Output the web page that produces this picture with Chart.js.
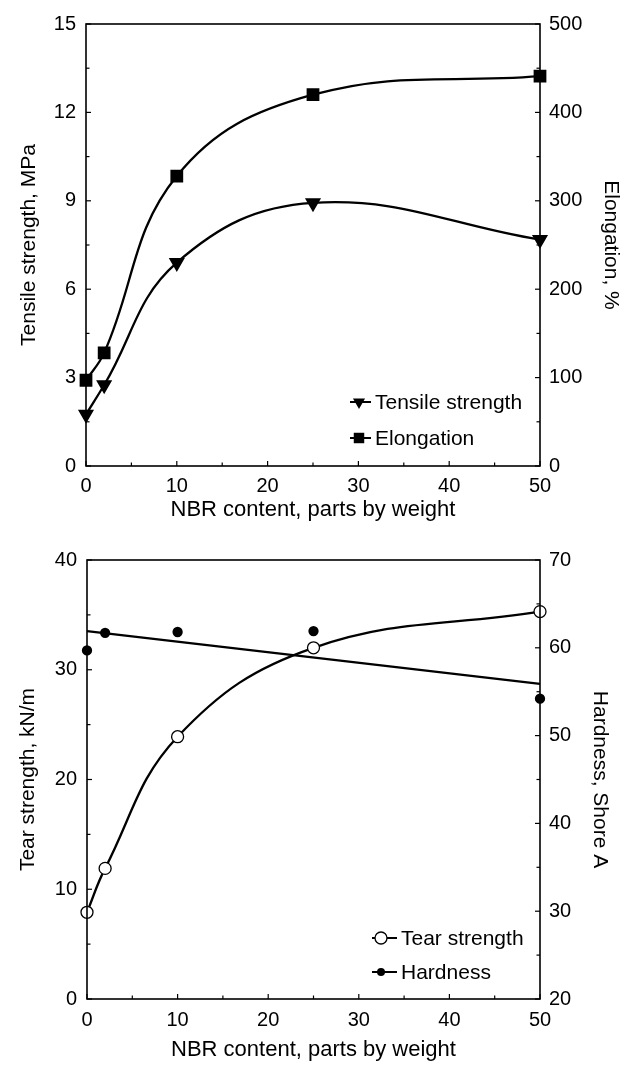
<!DOCTYPE html>
<html>
<head>
<meta charset="utf-8">
<script src="https://cdn.jsdelivr.net/npm/chart.js@4/dist/chart.umd.min.js"></script>
<style>
  body { margin: 0; background: #fff; overflow: hidden; }
  .box { position: absolute; left: 0; width: 629px; }
</style>
</head>
<body>
<div class="box" style="top:0;height:530px"><canvas id="topChart"></canvas></div>
<div class="box" style="top:530px;height:537px"><canvas id="bottomChart"></canvas></div>
<script>
// NBR content, parts by weight
const nbr = [0, 2, 10, 25, 50]
const tensile = [1.75, 2.75, 6.9, 8.93, 7.68]       // MPa
const elongation = [97, 128, 328, 420, 441]         // %
const tear = [7.9, 11.9, 23.9, 32.0, 35.3]          // kN/m
const hardness = [59.7, 61.7, 61.8, 61.9, 54.2]     // Shore A
// straight fit drawn through the hardness points
const hardnessFitX = [0, 50]
const hardnessFit = [61.9, 55.9]

const xTicks = [0, 10, 20, 30, 40, 50]

Chart.defaults.font.family = "'Liberation Sans', Arial, sans-serif"
Chart.defaults.color = "#000"

const pts = (xs, ys) => xs.map((x, i) => ({ x: x, y: ys[i] }))

function drawMarker(ctx, style, x, y, r, filled) {
    ctx.beginPath()
    if (style === "triangleDown") {
        ctx.moveTo(x - r * 0.866, y - r / 2)
        ctx.lineTo(x + r * 0.866, y - r / 2)
        ctx.lineTo(x, y + r)
        ctx.closePath()
    } else if (style === "rect") {
        const s = r * Math.SQRT1_2
        ctx.rect(x - s, y - s, 2 * s, 2 * s)
    } else {
        ctx.arc(x, y, r, 0, Math.PI * 2)
    }
    if (filled) { ctx.fillStyle = "#000"; ctx.fill() }
    else { ctx.fillStyle = "#fff"; ctx.fill(); ctx.lineWidth = 1.3; ctx.stroke() }
}

// box round the plot + small inward ticks + the legend inside the plot
const framePlugin = {
    id: "frame",
    afterDatasetsDraw(chart, args, opts) {
        const { ctx, chartArea: a, scales } = chart
        ctx.save()
        ctx.strokeStyle = "#000"
        ctx.lineWidth = 1.6
        ctx.strokeRect(a.left, a.top, a.right - a.left, a.bottom - a.top)
        ctx.lineWidth = 1.2
        for (const t of opts.ticks) {
            const s = scales[t.id]
            for (let v = s.min; v <= s.max + 1e-9; v += t.minor) {
                const major = Math.abs(v / t.major - Math.round(v / t.major)) < 1e-6
                const len = major ? 5 : 3.5
                const p = s.getPixelForValue(v)
                ctx.beginPath()
                if (t.id === "x") { ctx.moveTo(p, a.bottom); ctx.lineTo(p, a.bottom - len) }
                else if (s.position === "left") { ctx.moveTo(a.left, p); ctx.lineTo(a.left + len, p) }
                else { ctx.moveTo(a.right, p); ctx.lineTo(a.right - len, p) }
                ctx.stroke()
            }
        }
        // legend
        const lg = opts.legend
        ctx.font = "21px 'Liberation Sans', Arial, sans-serif"
        ctx.textBaseline = "middle"
        ctx.textAlign = "left"
        lg.items.forEach((it, i) => {
            const y = a.bottom - lg.fromBottom + i * lg.gap
            const x0 = a.right - lg.fromRight
            ctx.strokeStyle = "#000"
            ctx.lineWidth = 2
            ctx.beginPath()
            ctx.moveTo(x0, y)
            ctx.lineTo(x0 + lg.lineLen, y)
            ctx.stroke()
            drawMarker(ctx, it.style, x0 + lg.markAt, y, it.r, it.filled)
            ctx.fillStyle = "#000"
            ctx.fillText(it.text, x0 + lg.lineLen + 4, y + 1)
        })
        ctx.restore()
    }
}

function xAxis(height, tickPad, titlePad) {
    return {
        type: "linear", min: 0, max: 50,
        afterBuildTicks: s => { s.ticks = xTicks.map(v => ({ value: v })) },
        afterFit: s => { s.height = height },
        grid: { display: false }, border: { display: false },
        ticks: { font: { size: 20 }, padding: tickPad, maxRotation: 0 },
        title: { display: true, text: "NBR content, parts by weight", font: { size: 22 }, padding: { top: 0, bottom: titlePad } }
    }
}

function yAxis(pos, min, max, step, width, tickPad, title, titlePad) {
    return {
        type: "linear", position: pos, min: min, max: max,
        afterFit: s => { s.width = width },
        grid: { display: false }, border: { display: false },
        ticks: { stepSize: step, font: { size: 20 }, padding: tickPad },
        title: { display: true, text: title, font: { size: 21 }, padding: { top: titlePad, bottom: 0 } }
    }
}

const lineStyle = { borderColor: "#000", backgroundColor: "#000", borderWidth: 2.3, tension: 0.4, clip: false, pointBorderColor: "#000" }

new Chart(document.getElementById("topChart"), {
    type: "line",
    data: {
        datasets: [
            Object.assign({ label: "Tensile strength", data: pts(nbr, tensile), yAxisID: "y",
                pointStyle: "triangle", rotation: 180, pointRadius: 7, pointBackgroundColor: "#000" }, lineStyle),
            Object.assign({ label: "Elongation", data: pts(nbr, elongation), yAxisID: "y1",
                pointStyle: "rect", pointRadius: 7.4, pointBackgroundColor: "#000" }, lineStyle)
        ]
    },
    options: {
        responsive: true, maintainAspectRatio: false, animation: false,
        layout: { padding: { top: 24, left: 0, right: 0, bottom: 0 } },
        plugins: {
            legend: { display: false }, tooltip: { enabled: false },
            frame: {
                ticks: [{ id: "x", major: 10, minor: 5 }, { id: "y", major: 3, minor: 1.5 }, { id: "y1", major: 100, minor: 50 }],
                legend: { fromRight: 190, fromBottom: 64, gap: 36, lineLen: 21, markAt: 9,
                    items: [{ text: "Tensile strength", style: "triangleDown", r: 7, filled: true },
                            { text: "Elongation", style: "rect", r: 7.4, filled: true }] }
            }
        },
        scales: {
            x: xAxis(64, 0, 7),
            y: yAxis("left", 0, 15, 3, 86, 2, "Tensile strength, MPa", 17),
            y1: yAxis("right", 0, 500, 100, 89, 1, "Elongation, %", 6)
        }
    },
    plugins: [framePlugin]
})

new Chart(document.getElementById("bottomChart"), {
    type: "line",
    data: {
        datasets: [
            Object.assign({ label: "Tear strength", data: pts(nbr, tear), yAxisID: "y",
                pointStyle: "circle", pointRadius: 6, pointBackgroundColor: "#fff", pointBorderWidth: 1.3 }, lineStyle),
            Object.assign({ label: "Hardness", data: pts(nbr, hardness), yAxisID: "y1", showLine: false,
                pointStyle: "circle", pointRadius: 4, pointBackgroundColor: "#000" }, lineStyle),
            Object.assign({ label: "Hardness fit", data: pts(hardnessFitX, hardnessFit), yAxisID: "y1",
                pointRadius: 0 }, lineStyle, { tension: 0 })
        ]
    },
    options: {
        responsive: true, maintainAspectRatio: false, animation: false,
        layout: { padding: { top: 30, left: 0, right: 0, bottom: 0 } },
        plugins: {
            legend: { display: false }, tooltip: { enabled: false },
            frame: {
                ticks: [{ id: "x", major: 10, minor: 5 }, { id: "y", major: 10, minor: 5 }, { id: "y1", major: 10, minor: 5 }],
                legend: { fromRight: 168, fromBottom: 61, gap: 34, lineLen: 25, markAt: 9,
                    items: [{ text: "Tear strength", style: "circle", r: 6, filled: false },
                            { text: "Hardness", style: "circle", r: 4, filled: true }] }
            }
        },
        scales: {
            x: xAxis(68, 1, 4),
            y: yAxis("left", 0, 40, 10, 87, 2, "Tear strength, kN/m", 16),
            y1: yAxis("right", 20, 70, 10, 89, 1, "Hardness, Shore A", 17)
        }
    },
    plugins: [framePlugin]
})
</script>
</body>
</html>
